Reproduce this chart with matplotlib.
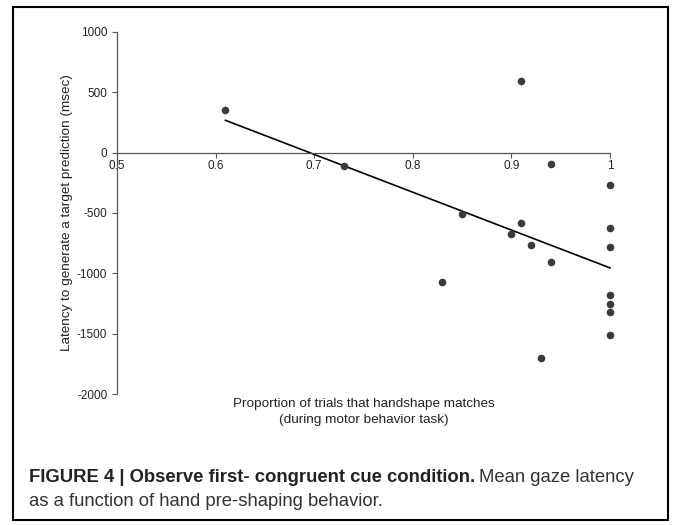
import matplotlib
matplotlib.use("Agg")
import matplotlib.pyplot as plt
import numpy as np
from matplotlib.patches import Rectangle

# data
prop_match = [0.61, 0.73, 0.91, 0.94, 1.00, 0.85, 0.91, 0.90, 0.92, 0.94,
              1.00, 1.00, 0.83, 1.00, 1.00, 1.00, 1.00, 0.93]
latency = [355, -110, 594, -97, -271, -505, -580, -671, -762, -903,
           -622, -779, -1072, -1182, -1257, -1323, -1506, -1696]
xticks = [0.5, 0.6, 0.7, 0.8, 0.9, 1.0]
xticklabels = ["0.5", "0.6", "0.7", "0.8", "0.9", "1"]
yticks = [1000, 500, 0, -500, -1000, -1500, -2000]
yticklabels = ["1000", "500", "0", "-500", "-1000", "-1500", "-2000"]

plt.rcParams['font.family'] = ['Liberation Sans', 'DejaVu Sans']

fig = plt.figure(figsize=(6.75, 5.25), dpi=100)
ax = fig.add_axes([0.1733, 0.2490, 0.7304, 0.6906])

x = np.array(prop_match)
y = np.array(latency)
ax.scatter(x, y, s=30, color='#3b3b3b', zorder=3, linewidths=0, clip_on=False)

# linear trend line
k, b = np.polyfit(x, y, 1)
xl = np.array([x.min(), x.max()])
ax.plot(xl, k * xl + b, color='black', lw=1.2, zorder=2, clip_on=False)

ax.set_xlim(0.5, 1.0)
ax.set_ylim(-2000, 1000)
ax.spines['top'].set_visible(False)
ax.spines['right'].set_visible(False)
ax.spines['bottom'].set_position(('data', 0))
for s in ['left', 'bottom']:
    ax.spines[s].set_color('#555555')
    ax.spines[s].set_linewidth(0.9)
ax.set_xticks(xticks)
ax.set_xticklabels(xticklabels)
ax.set_yticks(yticks)
ax.set_yticklabels(yticklabels)
ax.tick_params(axis='both', labelsize=8.5, colors='#555555', labelcolor='#222222',
               length=3.5, width=0.8)
ax.tick_params(axis='x', pad=1.5)
ax.patch.set_visible(False)

fig.text(0.5385, 1 - 412 / 525, "Proportion of trials that handshape matches\n(during motor behavior task)",
         ha='center', va='center', fontsize=9.7, color='#222222', linespacing=1.4)
fig.text(67 / 675, 1 - 213 / 525, "Latency to generate a target prediction (msec)",
         ha='center', va='center', rotation=90, fontsize=9.7, color='#222222')

# frame around the whole figure
fig.patches.append(Rectangle((13 / 675, 5 / 525), 655 / 675, 513 / 525, transform=fig.transFigure,
                             fill=False, edgecolor='black', lw=1.5))

# caption
t1 = fig.text(29 / 675, 1 - 477 / 525, "FIGURE 4 | Observe first- congruent cue condition.",
              ha='left', va='center', fontsize=13.3, fontweight='bold', color='#222222')
fig.canvas.draw()
bb = t1.get_window_extent()
fig.text((bb.x1 + 4) / 675, 1 - 477 / 525, "Mean gaze latency",
         ha='left', va='center', fontsize=13.3, color='#333333')
fig.text(29 / 675, 1 - 502 / 525, "as a function of hand pre-shaping behavior.",
         ha='left', va='center', fontsize=13.3, color='#333333')

fig.savefig("out.png", dpi=100)
